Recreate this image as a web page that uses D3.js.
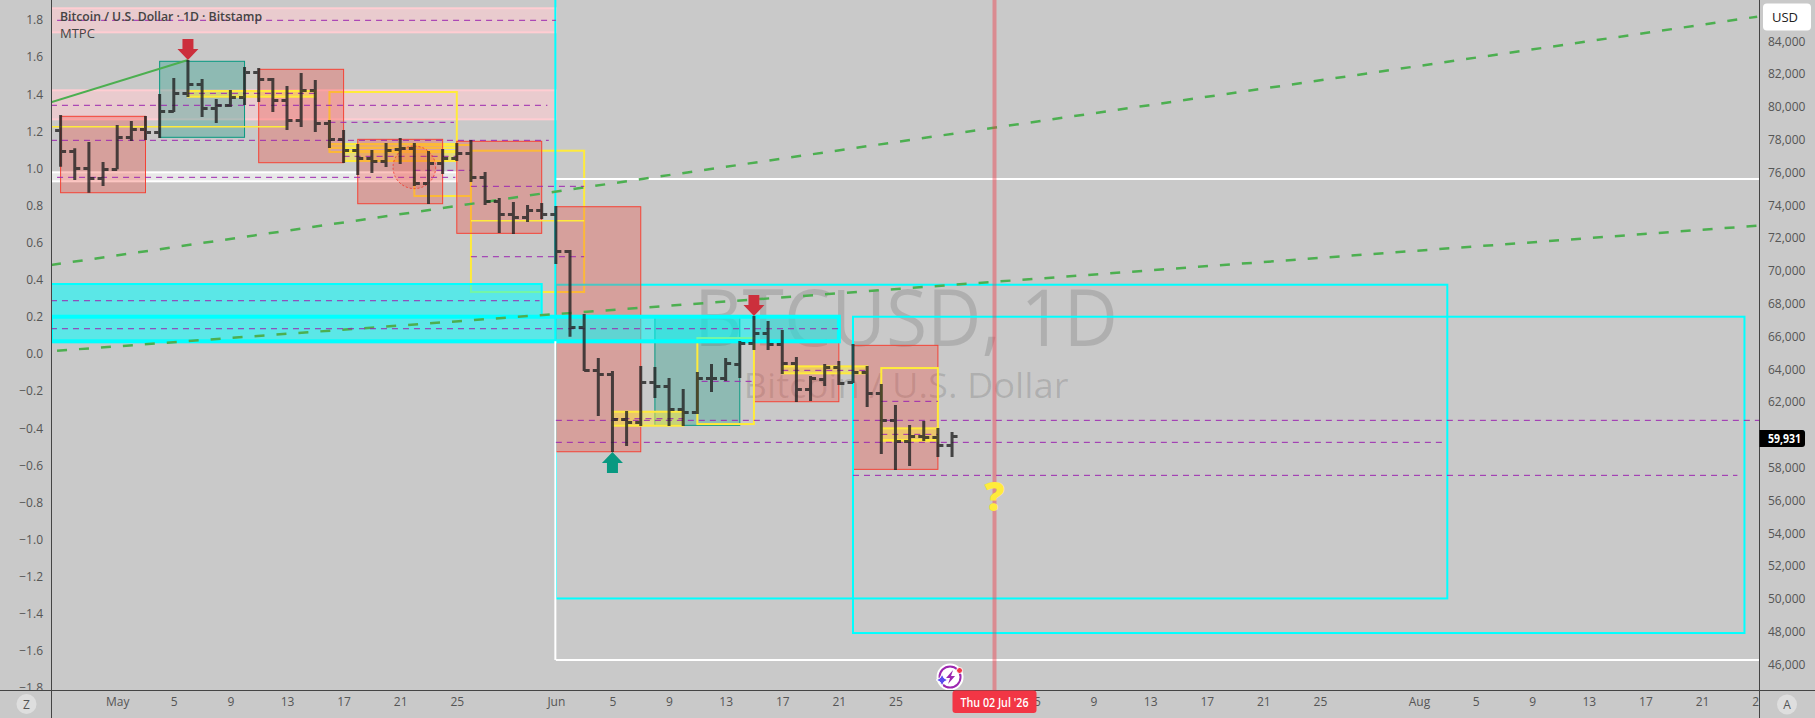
<!DOCTYPE html>
<html><head><meta charset="utf-8">
<script src="https://cdn.jsdelivr.net/npm/d3@7/dist/d3.min.js"></script>
<style>html,body{margin:0;padding:0;background:#c9c9c9;overflow:hidden}svg{display:block}text{font-family:"Open Sans","Noto Sans",sans-serif}</style>
</head><body><svg id="c" width="1815" height="718"></svg>
<script>
// ---- data: bars are daily, first bar at firstBarDay (days from 1 May 2026)
const firstBarDay = -4;
const barOpen = [78572,77292,76255,75645,76194,78145,78633,78450,79731,80828,81377,79914,80097,80585,82109,81682,80402,79182,81011,79000,78023,77353,76865,76682,77414,77475,75340,76560,76865,77170,75706,74243,73450,73267,73694,73450,71212,66559,63955,63711,60967,60784,63224,62980,61577,61394,63467,63467,64321,65602,66211,65541,64382,62797,63406,64138,63224,63833,62553,60906,59626,59931,59870,59382];
const barHigh = [79505,77475,77859,76639,78895,79139,79444,80786,81762,82859,81700,80481,81030,82432,82371,81762,81274,82066,81640,79200,78591,77737,77371,77798,78103,77798,77310,77432,77798,77981,76029,74444,74200,74017,74139,73956,71273,67370,64687,63894,61455,64199,64138,63467,62797,63833,64321,64687,65723,67248,66943,66395,64748,63589,64321,64504,65541,64199,63102,61821,60602,60846,60419,60174];
const barLow = [76353,75542,74767,75176,76194,77920,77981,78103,79688,80603,79383,79017,79993,80115,80298,79688,78591,78773,78469,77493,76578,75846,75968,76334,76517,75176,74078,75907,76700,75420,74017,72310,72249,72980,73163,70419,65986,63894,61150,58955,59321,60540,62248,60540,60540,61272,62614,63284,63467,65175,65175,63711,62004,62065,62980,63041,63163,61699,58833,57857,58101,59626,58650,58650];
const barClose = [77292,76255,75645,76194,78145,78633,78450,79731,80828,81377,79914,80097,80585,82109,81682,80402,79182,81011,79000,78023,77353,76865,76682,77353,77475,75340,76560,76865,77170,75706,74243,73450,73267,73694,73450,71212,66559,63955,63711,60967,60784,63224,62980,61577,61394,63467,63467,64382,65602,66211,65541,64382,62797,63467,64138,63163,63833,62553,60906,59626,59931,59870,59382,59931];
// zones: [startDay, endDay, priceTop, priceBottom]
const pinkZones = [[-4.68,31,86012,84548],[-4.68,31,81011,79243]];
const whiteZones = [[-4.68,24,76011,75462]];
const yellowFrames1 = [[15,24,80908,77249],[21,25,77676,74566],[25,33,77328,68712]];
const yellowZones1 = [[15,24,77737,77493],[16,24,77310,76700]];
const redBoxes1 = [[-4,2,79426,74767],[10,16,82292,76597],[17,23,78023,74096],[24,30,77902,72291]];
const tealBoxes1 = [[3,9,82780,78146]];
const yellowZones2 = [[5,14,80969,80621]];
const cyanFrames1 = [[31,94,69157,50027]];
const redBoxes2 = [[31,37,73913,58973]];
const tealBoxes2 = [[38,44,67248,60583]];
const redBoxes3 = [[45,51,67206,62023],[52,58,65461,57900]];
const yellowFrames2 = [[41,45,65907,60662],[54,58,64077,59687]];
const yellowZones3 = [[35,40,61413,60559],[47,53,64180,63754],[54,58,60400,59644]];
const cyanUpperZones = [[-4.68,30,69200,67206]];
const cyanLowerZones = [[-4.68,51,67206,65706]];
const cyanFrames2 = [[52,115,67206,47919]];
// levels: [startDay, endDay, price]
const purpleLevels = [[-4.25,31,85280],[-4.68,30.4,80097],[-4.68,30.5,77962],[15,23.8,79060],[21,25,76133],[16,24,76987],[-4.25,23.9,75706],[25,33,75157],[25,33,70864],[-4.68,29.85,68181],[-4.68,51,66474],[31,116.1,60888],[31,93.7,59547],[52,114.5,57534],[41.3,45,63266],[47,53,63937],[54,58,62047],[54,58,60034],[35,40,60986],[5,14,80828]];
const whiteLevels = [[31,116.1,75602],[31,116.1,46271]];
const yellowLevels = [[-4.68,12,78792],[25,33,73060]];
// trend lines: [d0, p0, d1, p1]
const solidTrends = [[-4.68,80280,5,82859]];
const dashedTrends = [[-4.68,70358,115.9,85500],[-4.25,65132,115.9,72755]];
const downArrowBars = [5,45];
const upArrowBars = [35];
const focusDay = 62;
const focusLabel = "Thu 02 Jul '26";
const leftTicks = [1.8,1.6,1.4,1.2,1.0,0.8,0.6,0.4,0.2,0,-0.2,-0.4,-0.6,-0.8,-1.0,-1.2,-1.4,-1.6,-1.8];
const priceTicks = [84000,82000,80000,78000,76000,74000,72000,70000,68000,66000,64000,62000,60000,58000,56000,54000,52000,50000,48000,46000];
const timeTickDays = [0,4,8,12,16,20,24,31,35,39,43,47,51,55,65,69,73,77,81,85,92,96,100,104,108,112,116];
const monthNames = ["Jan","Feb","Mar","Apr","May","Jun","Jul","Aug"];
const lastClose = barClose[barClose.length-1];

// ---- scales
const day = d => new Date(Date.UTC(2026,4,1) + d*864e5);
const x = d3.scaleUtc().domain([day(0),day(92)]).range([117.2,1419]);
const y = d3.scaleLinear().domain([84000,46000]).range([41.3,664.5]);
const yL = d3.scaleLinear().domain([1.8,-1.8]).range([20,688]);
const L=51.5,R=1759.5,B=690.5;

const svg = d3.select("#c");
const defs = svg.append("defs");
defs.append("clipPath").attr("id","plot").append("rect").attr("x",L).attr("y",0).attr("width",R-L).attr("height",B);
defs.append("clipPath").attr("id","left").append("rect").attr("x",0).attr("y",0).attr("width",L).attr("height",B);
defs.append("clipPath").attr("id","bottom").append("rect").attr("x",L).attr("y",B).attr("width",R-L).attr("height",28);
svg.append("rect").attr("width",1815).attr("height",718).attr("fill","#c9c9c9");

const plot = svg.append("g").attr("clip-path","url(#plot)");
// watermark
const wm = plot.append("g").attr("fill","rgba(0,0,0,0.13)").attr("text-anchor","middle");
wm.append("text").attr("x",906).attr("y",346).attr("font-size",78).attr("textLength",424).attr("lengthAdjust","spacingAndGlyphs").text("BTCUSD, 1D");
wm.append("text").attr("x",906).attr("y",398).attr("font-size",34).attr("textLength",325).attr("lengthAdjust","spacingAndGlyphs").text("Bitcoin / U.S. Dollar");

function boxes(data,fill,stroke,w){
  plot.append("g").selectAll("rect").data(data).join("rect")
   .attr("x",d=>x(day(d[0]))).attr("width",d=>x(day(d[1]))-x(day(d[0])))
   .attr("y",d=>y(d[2])).attr("height",d=>y(d[3])-y(d[2]))
   .attr("fill",fill).attr("stroke",stroke).attr("stroke-width",w);
}
const RED="rgba(244,67,54,0.3)",TEAL="rgba(8,153,129,0.3)",YEL="rgba(255,235,59,0.5)",CY="rgba(0,255,255,0.55)";
boxes(pinkZones,"rgba(255,205,210,0.6)","#ffcdd2",2);
boxes(whiteZones,"rgba(255,255,255,0.57)","#ffffff",2);
boxes(yellowZones1,YEL,"#ffeb3b",2);
boxes(yellowFrames1,"none","#ffeb3b",2);
boxes(redBoxes1,RED,"#f44336",1);
boxes(tealBoxes1,TEAL,"#089981",1);
boxes(yellowZones2,YEL,"#ffeb3b",2);
boxes(cyanFrames1,"none","#00ffff",2);
boxes(redBoxes2,RED,"#f44336",1);
boxes(tealBoxes2,TEAL,"#089981",1);
boxes(redBoxes3,RED,"#f44336",1);
boxes(yellowFrames2,"none","#ffeb3b",2);
boxes(yellowZones3,YEL,"#ffeb3b",2);
boxes(cyanUpperZones,CY,"#00ffff",2);
boxes(cyanLowerZones,CY,"#00ffff",4);
boxes(cyanFrames2,"none","#00ffff",2);

function levels(data,stroke,w,dash){
  plot.append("g").selectAll("line").data(data).join("line")
   .attr("x1",d=>x(day(d[0]))).attr("x2",d=>x(day(d[1])))
   .attr("y1",d=>y(d[2])).attr("y2",d=>y(d[2]))
   .attr("stroke",stroke).attr("stroke-width",w).attr("stroke-dasharray",dash);
}
levels(whiteLevels,"#ffffff",2,null);
levels(yellowLevels,"#ffeb3b",1.5,null);
// June 1 vertical marks
const v1 = x(day(31))-0.5;
plot.append("line").attr("x1",v1).attr("x2",v1).attr("y1",0).attr("y2",y(65706)).attr("stroke","#00ffff").attr("stroke-width",2);
plot.append("line").attr("x1",v1).attr("x2",v1).attr("y1",y(65706)).attr("y2",y(46271)).attr("stroke","#ffffff").attr("stroke-width",2);

function trends(data,w,dash){
  plot.append("g").selectAll("line").data(data).join("line")
   .attr("x1",d=>x(day(d[0]))).attr("x2",d=>x(day(d[2])))
   .attr("y1",d=>y(d[1])).attr("y2",d=>y(d[3]))
   .attr("stroke","#4caf50").attr("stroke-width",w).attr("stroke-dasharray",dash);
}
trends(solidTrends,2,null);
trends(dashedTrends,2.5,"10 12");
levels(purpleLevels,"#9c27b0",1,"6 5");

// circle
plot.append("circle").attr("cx",x(day(21))).attr("cy",y(76316)).attr("r",21.3)
  .attr("fill","rgba(244,67,54,0.18)").attr("stroke","#f44336").attr("stroke-width",1).attr("stroke-dasharray","2 2");

// focus vertical
plot.append("line").attr("x1",x(day(focusDay))).attr("x2",x(day(focusDay))).attr("y1",0).attr("y2",B)
  .attr("stroke","rgba(242,54,69,0.42)").attr("stroke-width",4);

// bars
const bars = plot.append("g").attr("fill","none").attr("stroke","#222222").attr("stroke-width",3);
bars.selectAll("path").data(barOpen.map((o,i)=>({d:firstBarDay+i,o,h:barHigh[i],l:barLow[i],c:barClose[i]}))).join("path")
  .attr("opacity",0.8)
  .attr("d",b=>{const X=x(day(b.d));const r=v=>Math.round(y(v))+0.5;
    return `M${X},${y(b.h)}V${y(b.l)}M${X-5.5},${r(b.o)}H${X}M${X},${r(b.c)}H${X+5.5}`;});

// arrows
const headW=10.5,shaftW=5.5;
plot.append("g").selectAll("path").data(downArrowBars).join("path").attr("fill","#cc2f3c")
  .attr("d",d=>{const X=x(day(d)),T=y(barHigh[d-firstBarDay]);return `M${X},${T}L${X-headW},${T-11}H${X-shaftW}V${T-21}H${X+shaftW}V${T-11}H${X+headW}Z`;});
plot.append("g").selectAll("path").data(upArrowBars).join("path").attr("fill","#089981")
  .attr("d",d=>{const X=x(day(d)),T=y(barLow[d-firstBarDay]);return `M${X},${T}L${X-headW},${T+11}H${X-shaftW}V${T+21}H${X+shaftW}V${T+11}H${X+headW}Z`;});

// question mark
plot.append("text").attr("x",x(day(focusDay))).attr("y",511).attr("text-anchor","middle")
  .attr("font-size",40).attr("font-weight",800).attr("fill","#ffeb3b").text("?");

// icon
const ic = plot.append("g").attr("transform",`translate(${x(day(59))-2},677)`);
ic.append("circle").attr("r",13.5).attr("fill","#fff");
ic.append("circle").attr("r",10.5).attr("fill","#fff").attr("stroke","#9c27b0").attr("stroke-width",2);
ic.append("path").attr("d","M3,-7L-4,1H0L-2,7L5,-1H1Z").attr("fill","#9c27b0");
ic.append("path").attr("d","M-8,-3Q-7,2 -2,3Q-7,4 -8,9Q-9,4 -14,3Q-9,2 -8,-3Z").attr("fill","#5b4cf0").attr("stroke","#fff").attr("stroke-width",1);
ic.append("circle").attr("cx",9.5).attr("cy",-6.5).attr("r",3).attr("fill","#f23645").attr("stroke","#fff").attr("stroke-width",1);

// legend
svg.append("text").attr("x",60).attr("y",21).attr("font-size",13).attr("font-weight",600).attr("fill","#444").attr("textLength",202).attr("lengthAdjust","spacingAndGlyphs").text("Bitcoin / U.S. Dollar · 1D · Bitstamp");
svg.append("text").attr("x",60).attr("y",38).attr("font-size",13).attr("fill","#444").text("MTPC");

// axes
const axisStyle = g => { g.select(".domain").remove(); g.selectAll("text").attr("fill","#555").attr("font-size",12).attr("font-family",'"Open Sans","Noto Sans",sans-serif'); };
svg.append("g").attr("clip-path","url(#left)").append("g").attr("transform",`translate(${L},0)`)
  .call(d3.axisLeft(yL).tickValues(leftTicks).tickSize(0).tickPadding(8.5).tickFormat(d3.format(".1f"))).call(axisStyle);
svg.append("g").attr("transform",`translate(${R},0)`)
  .call(d3.axisRight(y).tickValues(priceTicks).tickSize(0).tickPadding(8.5).tickFormat(d3.format(","))).call(axisStyle);
svg.append("g").attr("clip-path","url(#bottom)").append("g").attr("transform",`translate(0,${B})`)
  .call(d3.axisBottom(x).tickValues(timeTickDays.map(day)).tickSize(0).tickPadding(7)
    .tickFormat(t=>t.getUTCDate()===1?monthNames[t.getUTCMonth()]:t.getUTCDate())).call(axisStyle);
const rule = svg.append("g").attr("stroke","#444").attr("stroke-width",1);
rule.append("line").attr("x1",L).attr("x2",L).attr("y1",0).attr("y2",718);
rule.append("line").attr("x1",R).attr("x2",R).attr("y1",0).attr("y2",718);
rule.append("line").attr("x1",0).attr("x2",1815).attr("y1",B).attr("y2",B);

// USD button
svg.append("rect").attr("x",1763).attr("y",3.5).attr("width",48).attr("height",27).attr("rx",4).attr("fill","#fff");
svg.append("text").attr("x",1772).attr("y",22).attr("font-size",13).attr("fill","#222").text("USD");
// last price tag
const ly = 438.5;
svg.append("path").attr("d",`M${R},${ly-8.5}H1802a3,3 0 0 1 3,3V${ly+5.5}a3,3 0 0 1 -3,3H${R}Z`).attr("fill","#000");
svg.append("text").attr("x",1768).attr("y",ly+4.3).attr("font-size",12).attr("font-weight",700).attr("fill","#fff").attr("textLength",33).attr("lengthAdjust","spacingAndGlyphs").text(d3.format(",")(lastClose));
// date tag
const fx=x(day(focusDay));
svg.append("rect").attr("x",fx-42).attr("y",B).attr("width",84).attr("height",22.5).attr("rx",3).attr("fill","#f23645");
svg.append("text").attr("x",fx).attr("y",B+16.5).attr("text-anchor","middle").attr("font-size",12).attr("font-weight",600).attr("fill","#fff").attr("textLength",68).attr("lengthAdjust","spacingAndGlyphs").text(focusLabel);
// Z and A buttons
svg.append("circle").attr("cx",26.5).attr("cy",704).attr("r",10).attr("fill","#dedede");
svg.append("text").attr("x",26.5).attr("y",708.5).attr("text-anchor","middle").attr("font-size",12).attr("fill","#555").text("Z");
svg.append("circle").attr("cx",1787).attr("cy",704.5).attr("r",10).attr("fill","#dedede");
svg.append("text").attr("x",1787).attr("y",709).attr("text-anchor","middle").attr("font-size",12).attr("fill","#555").text("A");
</script></body></html>
